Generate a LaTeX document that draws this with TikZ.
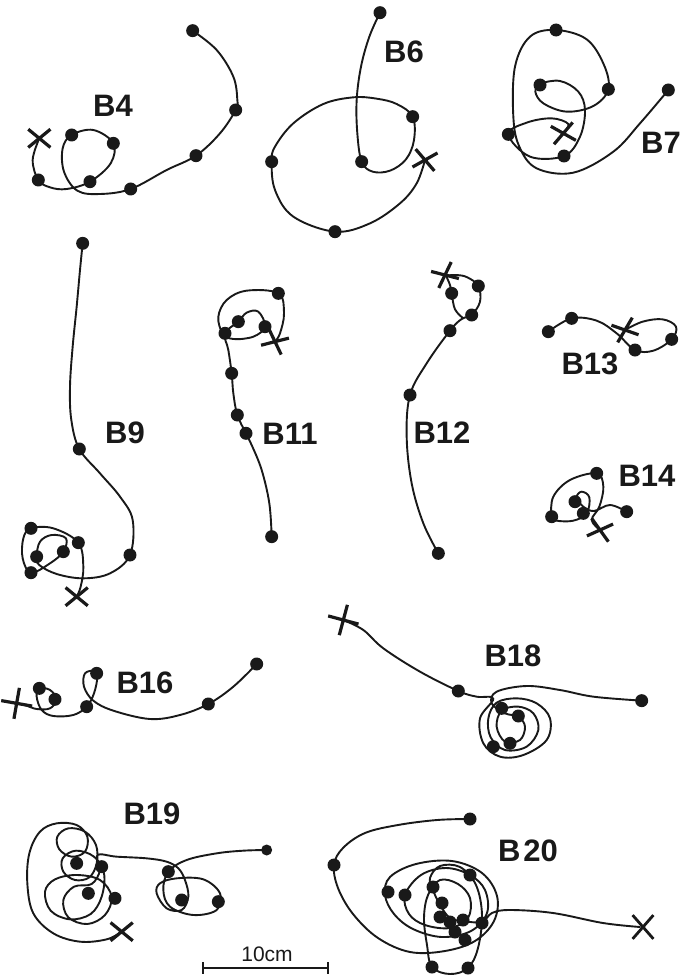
\documentclass[tikz,border=0pt]{standalone}
\usepackage{fontspec}
\setmainfont{Liberation Sans}
\usetikzlibrary{shapes.misc}
\definecolor{ink}{gray}{0.1}
\begin{document}
\begin{tikzpicture}[x=1pt,y=-1pt,
  traj/.style={draw=ink,line width=1.9pt,line join=round,line cap=round},
  dot/.style={circle,fill=ink,inner sep=0pt,minimum size=13pt},
  xm/.style={cross out,draw=ink,line width=3.2pt,minimum width=19pt,minimum height=15pt,inner sep=0pt},
  lab/.style={font=\fontsize{31}{33}\selectfont\bfseries,text=ink,inner sep=0pt},
  sm/.style={smooth,tension=0.6}]
\useasboundingbox (0,0) rectangle (681,977);
\fill[white] (0,0) rectangle (681,977);

% ---------- B4 ----------
\begin{scope}[shift={(0,0)},scale=1/3]
\draw[traj] plot[sm] coordinates {(578,92) (650,150) (700,230) (712,300) (707,330) (660,400) (588,467) (500,510) (392,567) (300,582) (232,572) (192,515) (188,445) (215,405) (280,390) (340,430) (332,490) (270,545) (200,567) (150,562) (115,540) (98,480) (118,415)};
\foreach \x/\y [count=\i] in {578/92,707/330,588/467,392/567,215/405,340/430,270/545,115/540} \node[dot] (b4d\i) at (\x,\y) {};
\node[xm] (b4x) at (118,415) {};
\end{scope}
\node[lab] (lb4) at (113,106) {B4};

% ---------- B6 ----------
\begin{scope}[shift={(250,0)},scale=1/3]
\draw[traj] plot[sm] coordinates {(390,38) (358,110) (333,200) (320,300) (322,400) (335,485) (368,515) (420,512) (468,478) (492,420) (488,350) (440,312) (380,296) (310,292) (220,312) (130,370) (75,440) (65,485) (75,570) (130,650) (255,695) (360,670) (450,610) (500,550) (525,480)};
\foreach \x/\y [count=\i] in {390/38,335/485,488/350,65/485,255/695} \node[dot] (b6d\i) at (\x,\y) {};
\node[xm,rotate=-10] (b6x) at (525,480) {};
\end{scope}
\node[lab] (lb6) at (404,52) {B6};

% ---------- B7 ----------
\begin{scope}[shift={(480,0)},scale=1/3]
\draw[traj] plot[sm] coordinates {(565,270) (480,370) (400,455) (280,518) (170,505) (118,440) (100,350) (105,200) (150,110) (228,90) (320,118) (372,195) (385,268) (340,318) (260,335) (190,310) (166,275) (180,252) (240,243) (295,275) (315,330) (300,410) (252,468) (150,470) (85,403) (140,368) (215,355) (265,372) (250,400)};
\foreach \x/\y [count=\i] in {565/270,228/90,385/268,180/255,85/403,252/468} \node[dot] (b7d\i) at (\x,\y) {};
\node[xm,rotate=10] (b7x) at (250,400) {};
\end{scope}
\node[lab,anchor=west] (lb7) at (641,143) {B7};

% ---------- B9 ----------
\begin{scope}[shift={(0,220)},scale=1/3]
\draw[traj] plot[sm] coordinates {(248,70) (240,150) (230,260) (218,380) (210,500) (214,600) (238,687) (300,760) (360,830) (398,900) (390,1005) (330,1060) (250,1075) (170,1062) (118,1035) (110,1010) (120,965) (155,945) (198,955) (190,995) (150,1030) (93,1058) (68,1015) (70,955) (93,925) (160,925) (235,968) (250,1040) (242,1100) (230,1130)};
\foreach \x/\y [count=\i] in {248/70,238/687,390/1005,93/925,110/1010,190/995,235/968,93/1058} \node[dot] (b9d\i) at (\x,\y) {};
\node[xm] (b9x) at (230,1130) {};
\end{scope}
\node[lab] (lb9) at (125,433) {B9};

% ---------- B11 ----------
\begin{scope}[shift={(200,270)},scale=1/3]
\draw[traj] plot[sm] coordinates {(215,800) (208,700) (185,600) (155,525) (138,490) (112,435) (100,370) (95,310) (85,240) (75,190) (115,155) (140,128) (175,125) (195,170) (160,200) (100,207) (68,190) (55,140) (80,90) (140,62) (235,70) (252,130) (240,190) (225,215)};
\foreach \x/\y [count=\i] in {235/70,115/155,75/190,195/170,95/310,112/435,138/490,215/800} \node[dot] (b11d\i) at (\x,\y) {};
\node[xm,rotate=-25] (b11x) at (225,215) {};
\end{scope}
\node[lab] (lb11) at (290,434) {B11};

% ---------- B12 ----------
\begin{scope}[shift={(390,250)},scale=1/3]
\draw[traj] plot[sm] coordinates {(145,910) (100,820) (65,700) (50,560) (60,435) (110,340) (180,242) (215,207) (245,195) (270,155) (265,108) (232,82) (200,75) (168,77)};
\draw[traj] plot[sm] coordinates {(168,77) (180,105) (185,130) (195,178) (220,205)};
\foreach \x/\y [count=\i] in {265/108,185/130,245/195,180/242,60/435,145/910} \node[dot] (b12d\i) at (\x,\y) {};
\node[xm,rotate=25] (b12x) at (165,75) {};
\end{scope}
\node[lab] (lb12) at (442,433) {B12};

% ---------- B13 ----------
\begin{scope}[shift={(520,300)},scale=1/3]
\draw[traj] plot[sm] coordinates {(85,95) (155,55) (230,62) (290,100) (345,150) (400,152) (455,118) (468,80) (428,58) (368,65) (315,90)};
\foreach \x/\y [count=\i] in {85/95,155/55,345/150,455/118} \node[dot] (b13d\i) at (\x,\y) {};
\node[xm,rotate=20] (b13x) at (315,90) {};
\end{scope}
\node[lab] (lb13) at (590,364) {B13};

% ---------- B14 ----------
\begin{scope}[shift={(520,300)},scale=1/3]
\draw[traj] plot[sm] coordinates {(320,635) (270,615) (222,633) (190,620) (170,592) (185,575) (208,592) (200,640) (160,662) (110,662) (95,650) (100,590) (150,540) (230,520) (250,560) (238,620) (215,660) (240,690)};
\foreach \x/\y [count=\i] in {230/520,95/650,165/605,190/640,320/635} \node[dot] (b14d\i) at (\x,\y) {};
\node[xm,rotate=-15] (b14x) at (240,690) {};
\end{scope}
\node[lab] (lb14) at (647,476) {B14};

% ---------- B16 ----------
\begin{scope}[shift={(0,640)},scale=1/3]
\draw[traj] plot[sm] coordinates {(770,72) (700,140) (625,192) (540,225) (450,237) (340,212) (280,182) (252,140) (255,100) (285,93) (292,112) (282,160) (260,200) (220,225) (160,228) (125,210) (110,170) (118,145) (150,150) (170,178) (150,205) (110,207) (80,197) (50,190)};
\foreach \x/\y [count=\i] in {770/72,625/192,260/200,290/100,165/178,118/145} \node[dot] (b16d\i) at (\x,\y) {};
\node[xm,minimum width=19pt,minimum height=19pt,rotate=35] (b16x) at (50,190) {};
\end{scope}
\node[lab] (lb16) at (145,683) {B16};

% ---------- B18 ----------
\begin{scope}[shift={(320,590)},scale=1/3]
\draw[traj] plot[sm] coordinates {(70,90) (130,120) (190,175) (300,245) (415,303) (470,320) (520,326) (480,385) (490,460) (540,500) (610,495) (680,450) (690,385) (650,340) (590,325) (530,338) (505,385) (512,442) (555,480) (620,470) (655,420) (640,370) (595,350) (545,362) (530,410) (555,455) (600,450) (615,410) (595,380) (555,370) (515,340) (530,305) (620,288) (720,300) (820,320) (965,332)};
\foreach \x/\y [count=\i] in {415/303,965/332,545/355,595/378,570/460,520/470} \node[dot] (b18d\i) at (\x,\y) {};
\node[xm,minimum width=19pt,minimum height=19pt,rotate=30] (b18x) at (70,90) {};
\end{scope}
\node[lab] (lb18) at (513,656) {B18};

% ---------- B19 ----------
\begin{scope}[shift={(0,790)},scale=1/3]
\draw[traj] plot[sm] coordinates {(365,425) (320,448) (240,455) (160,430) (100,370) (82,280) (88,190) (120,125) (170,100) (230,105) (262,140) (255,185) (215,200) (178,178) (172,140) (205,115) (255,125) (288,165) (290,220) (268,262) (225,270) (190,245) (188,205) (228,182) (282,200) (312,250) (305,320) (272,372) (210,388) (152,362) (135,305) (165,268) (230,255) (300,270) (335,320) (315,375) (262,402) (205,382) (190,330) (222,290) (275,282) (300,240) (292,195) (350,200) (440,205) (500,215) (535,235) (555,270) (565,320) (545,360) (500,355) (470,310) (480,280) (530,265) (610,268) (660,310) (650,360) (580,375) (510,350) (490,300) (505,245) (560,210) (650,190) (730,182) (800,180)};
\foreach \x/\y [count=\i] in {230/220,305/230,265/310,345/325,505/245,545/330,655/335} \node[dot] (b19d\i) at (\x,\y) {};
\node[dot,minimum size=11pt] (b19e) at (800,180) {};
\node[xm] (b19x) at (365,425) {};
\end{scope}
\node[lab] (lb19) at (152,814) {B19};

% ---------- B20 ----------
\draw[traj] plot[sm] coordinates {(470,819) (437,820) (398,825) (365,833) (343,848) (334,865) (338,888) (353,914) (378,938) (410,952) (445,951) (475,941) (494,921) (497,896) (482,873) (452,861) (416,864) (390,877) (385,895) (394,914) (413,929) (442,937) (471,931) (487,913) (485,890) (470,875) (446,868) (421,875) (405,895) (409,914) (425,925) (450,928) (468,918) (470,898) (458,884) (440,880) (428,895) (424,918) (427,945) (432,967) (450,974) (468,968) (478,948) (482,915) (476,885) (460,867) (440,866) (430,878) (433,890) (440,905) (450,918) (463,921) (482,922) (492,913) (510,910) (553,913) (603,923) (640,927)};
\foreach \x/\y [count=\i] in {470/819,334/865,388/892,405/895,433/887,470/875,442/903,440/917,450/922,463/920,482/923,455/932,465/940,432/967,468/968} \node[dot] (b20d\i) at (\x,\y) {};
\node[xm,line width=2.8pt,minimum width=18pt,minimum height=21pt] (b20x) at (643,927) {};
\node[lab] (lb20) at (528,851) {B\kern3pt20};

% ---------- scale bar ----------
\coordinate (sb1) at (203,968);
\coordinate (sb2) at (328,968);
\draw[ink,line width=1.7pt] (sb1) -- (sb2);
\draw[ink,line width=1.7pt] ([yshift=6pt]sb1) -- ([yshift=-6pt]sb1);
\draw[ink,line width=1.7pt] ([yshift=6pt]sb2) -- ([yshift=-6pt]sb2);
\node[font=\fontsize{21}{23}\selectfont,text=ink,inner sep=0pt] (sbl) at (267,954) {10cm};
\end{tikzpicture}
\end{document}
